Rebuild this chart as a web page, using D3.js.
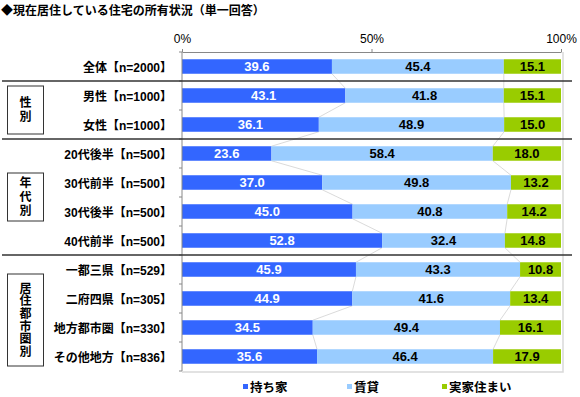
<!DOCTYPE html>
<html><head><meta charset="utf-8">
<script src="https://cdn.jsdelivr.net/npm/d3@7"></script>
<style>body{margin:0;background:#fff}svg{display:block}</style>
</head><body>
<svg id="c" width="580" height="397"></svg>
<script>
const title = "◆現在居住している住宅の所有状況（単一回答）";
const categories = ["全体【n=2000】","男性【n=1000】","女性【n=1000】","20代後半【n=500】","30代前半【n=500】","30代後半【n=500】","40代前半【n=500】","一都三県【n=529】","二府四県【n=305】","地方都市圏【n=330】","その他地方【n=836】"];
const seriesNames = ["持ち家","賃貸","実家住まい"];
const owned = [39.6,43.1,36.1,23.6,37.0,45.0,52.8,45.9,44.9,34.5,35.6];
const rent = [45.4,41.8,48.9,58.4,49.8,40.8,32.4,43.3,41.6,49.4,46.4];
const parents = [15.1,15.1,15.0,18.0,13.2,14.2,14.8,10.8,13.4,16.1,17.9];
const tickLabels = ["0%","50%","100%"];
const tickValues = [0,0.5,1];
const groupNames = ["性別","年代別","居住都市圏別"];
const groupFirst = [1,3,7];
const groupLast = [2,6,10];
const separatorsAfter = [0,2,6];
const colors = ["#3366ff","#99ccff","#99cc00"];

const svg = d3.select("#c");
const font = "'Liberation Sans','Noto Sans CJK JP',sans-serif";
const x0 = 182, x1 = 561, yTop = 52, yBot = 371;
const x = d3.scaleLinear().domain([0,1]).range([x0,x1]);
const y = d3.scaleBand().domain(categories).range([yTop,yBot]).paddingInner(0.5).paddingOuter(0.25);
const band = y.step();

const rows = categories.map((c,i)=>({cat:c,"持ち家":owned[i],"賃貸":rent[i],"実家住まい":parents[i]}));
const stacked = d3.stack().keys(seriesNames).offset(d3.stackOffsetExpand)(rows);

// title
svg.append("text").attr("x",1).attr("y",15).attr("font-family",font).attr("font-size",12).attr("font-weight","bold").text(title);

// plot shadow border
svg.append("path").attr("d",`M${x1+2},${yTop}V${yBot+1}H${x0}`).attr("fill","none").attr("stroke","#d9d9d9").attr("stroke-width",1.5);

// connector lines
stacked.slice(0,2).forEach(s=>{
  for(let i=0;i<categories.length-1;i++){
    svg.append("line")
      .attr("x1",x(s[i][1])).attr("y1",y(categories[i])+y.bandwidth())
      .attr("x2",x(s[i+1][1])).attr("y2",y(categories[i+1]))
      .attr("stroke","#d0d0d0").attr("stroke-width",0.8);
  }
});

// bars
stacked.forEach((s,k)=>{
  svg.append("g").selectAll("rect").data(s).join("rect")
    .attr("x",d=>x(d[0])).attr("width",d=>x(d[1])-x(d[0]))
    .attr("y",(d,i)=>y(categories[i])).attr("height",y.bandwidth())
    .attr("fill",colors[k]);
  svg.append("g").selectAll("text").data(s).join("text")
    .attr("x",d=>(x(d[0])+x(d[1]))/2)
    .attr("y",(d,i)=>y(categories[i])+y.bandwidth()/2)
    .attr("dy","0.37em").attr("text-anchor","middle")
    .attr("font-family",font).attr("font-size",13).attr("font-weight","bold")
    .attr("fill",k===0?"#fff":"#000")
    .text((d,i)=>[owned,rent,parents][k][i].toFixed(1));
});

// top axis
const ax = svg.append("g").attr("transform",`translate(0,${yTop})`)
  .call(d3.axisTop(x).tickValues(tickValues).tickFormat((d,i)=>tickLabels[i]).tickSizeInner(3).tickSizeOuter(0).tickPadding(6));
ax.select(".domain").attr("stroke","#888");
ax.selectAll(".tick line").attr("stroke","#888");
ax.selectAll("text").attr("font-family",font).attr("font-size",12).attr("fill","#000");

// left axis line & ticks
svg.append("line").attr("x1",x0).attr("x2",x0).attr("y1",yTop).attr("y2",yBot).attr("stroke","#888");
for(let i=0;i<=categories.length;i++){
  const yy = yTop + band*i;
  svg.append("line").attr("x1",x0-3).attr("x2",x0).attr("y1",yy).attr("y2",yy).attr("stroke","#888");
}

// category labels
svg.append("g").selectAll("text").data(categories).join("text")
  .attr("x",172).attr("y",d=>y(d)+y.bandwidth()/2+1).attr("dy","0.37em")
  .attr("text-anchor","end").attr("font-family",font).attr("font-size",12).attr("font-weight","bold")
  .text(d=>d);

// separators
separatorsAfter.forEach(i=>{
  const yy = yTop + band*(i+1);
  svg.append("line").attr("x1",2).attr("x2",572).attr("y1",yy).attr("y2",yy).attr("stroke","#333").attr("stroke-width",1.6);
});

// group boxes
groupNames.forEach((name,g)=>{
  const chars = Array.from(name);
  const lh = chars.length > 3 ? 12.6 : 14;
  const h = chars.length > 3 ? 92 : 48;
  const top = y(categories[groupFirst[g]]);
  const bot = y(categories[groupLast[g]]) + y.bandwidth();
  const cy = (top+bot)/2 + (chars.length > 3 ? 7 : 0);
  svg.append("rect").attr("x",7.5).attr("y",cy-h/2).attr("width",36).attr("height",h)
    .attr("fill","#fff").attr("stroke","#333").attr("stroke-width",1);
  chars.forEach((c,j)=>{
    svg.append("text").attr("x",25.5).attr("y",cy+(j-(chars.length-1)/2)*lh).attr("dy","0.36em")
      .attr("text-anchor","middle").attr("font-family",font).attr("font-size",12).attr("font-weight","bold").text(c);
  });
});

// legend
const legX = [243,347,442];
seriesNames.forEach((n,k)=>{
  svg.append("rect").attr("x",legX[k]).attr("y",384).attr("width",5).attr("height",5).attr("fill",colors[k]);
  svg.append("text").attr("x",legX[k]+7).attr("y",387).attr("dy","0.36em").attr("font-family",font)
    .attr("font-size",12.5).attr("font-weight","bold").text(n);
});
</script>
</body></html>
